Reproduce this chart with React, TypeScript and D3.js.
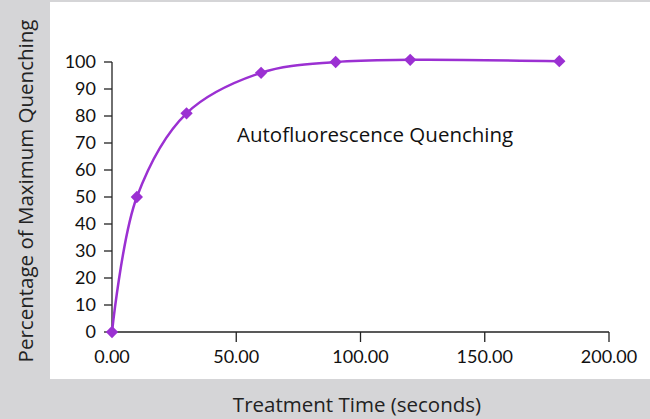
import * as d3 from "d3";

const times = [0, 10, 30, 60, 90, 120, 180];
const quench = [0, 50, 81, 96, 100, 100.8, 100.3];
const yTicks = [0, 10, 20, 30, 40, 50, 60, 70, 80, 90, 100];
const xTicks = [0, 50, 100, 150, 200];

const W = 650;
const H = 419;
const PURPLE = "#9b30d2";
const TICK_FONT = "Lato, 'Open Sans', sans-serif";
const TEXT_FONT = "'Open Sans', Lato, sans-serif";

export default function App() {
  const x = d3.scaleLinear().domain([0, 200]).range([112, 609]);
  const y = d3.scaleLinear().domain([0, 100]).range([332, 62]);

  const pts: [number, number][] = times.map((t, i) => [x(t), y(quench[i])]);
  const line = d3.line().curve(d3.curveCatmullRom.alpha(0.5))(pts) ?? "";
  // square turned 45deg, so it reads as an even diamond
  const diamond = d3.symbol(d3.symbolSquare, 76)() ?? "";

  return (
    <svg
      width={W}
      height={H}
      style={{ position: "absolute", left: 0, top: 0, display: "block" }}
    >
      <rect width={W} height={H} fill="#d5d5d7" />
      <rect x={50} y={2} width={600} height={377} fill="#fff" />

      {/* y axis */}
      <g fontFamily={TICK_FONT}>
        <line x1={112} x2={112} y1={y(100)} y2={y(0)} stroke="#222" strokeWidth={1.3} />
        {yTicks.map((t) => (
          <g key={t}>
            <line x1={104} x2={112} y1={y(t)} y2={y(t)} stroke="#222" strokeWidth={1.3} />
            <text x={96} y={y(t)} dy="0.36em" textAnchor="end" fontSize={18} fill="#111">
              {t}
            </text>
          </g>
        ))}

        {/* x axis */}
        <line x1={x(0)} x2={x(200)} y1={332} y2={332} stroke="#222" strokeWidth={1.3} />
        {xTicks.map((t) => (
          <g key={t}>
            {t > 0 && (
              <line x1={x(t)} x2={x(t)} y1={332} y2={342} stroke="#222" strokeWidth={1.3} />
            )}
            <text x={x(t)} y={363} textAnchor="middle" fontSize={18} fill="#111">
              {t.toFixed(2)}
            </text>
          </g>
        ))}
      </g>

      <path d={line} fill="none" stroke={PURPLE} strokeWidth={2.5} />
      {pts.map(([px, py], i) => (
        <path
          key={i}
          d={diamond}
          transform={`translate(${px},${py}) rotate(45)`}
          fill={PURPLE}
        />
      ))}

      <g fontFamily={TEXT_FONT}>
        <text x={237} y={142} fontSize={20.5} fill="#111">
          Autofluorescence Quenching
        </text>
        <text x={357} y={412} textAnchor="middle" fontSize={20.5} fill="#222">
          Treatment Time (seconds)
        </text>
        <text
          transform="translate(33,191) rotate(-90)"
          textAnchor="middle"
          fontSize={20.5}
          fill="#222"
        >
          Percentage of Maximum Quenching
        </text>
      </g>
    </svg>
  );
}
